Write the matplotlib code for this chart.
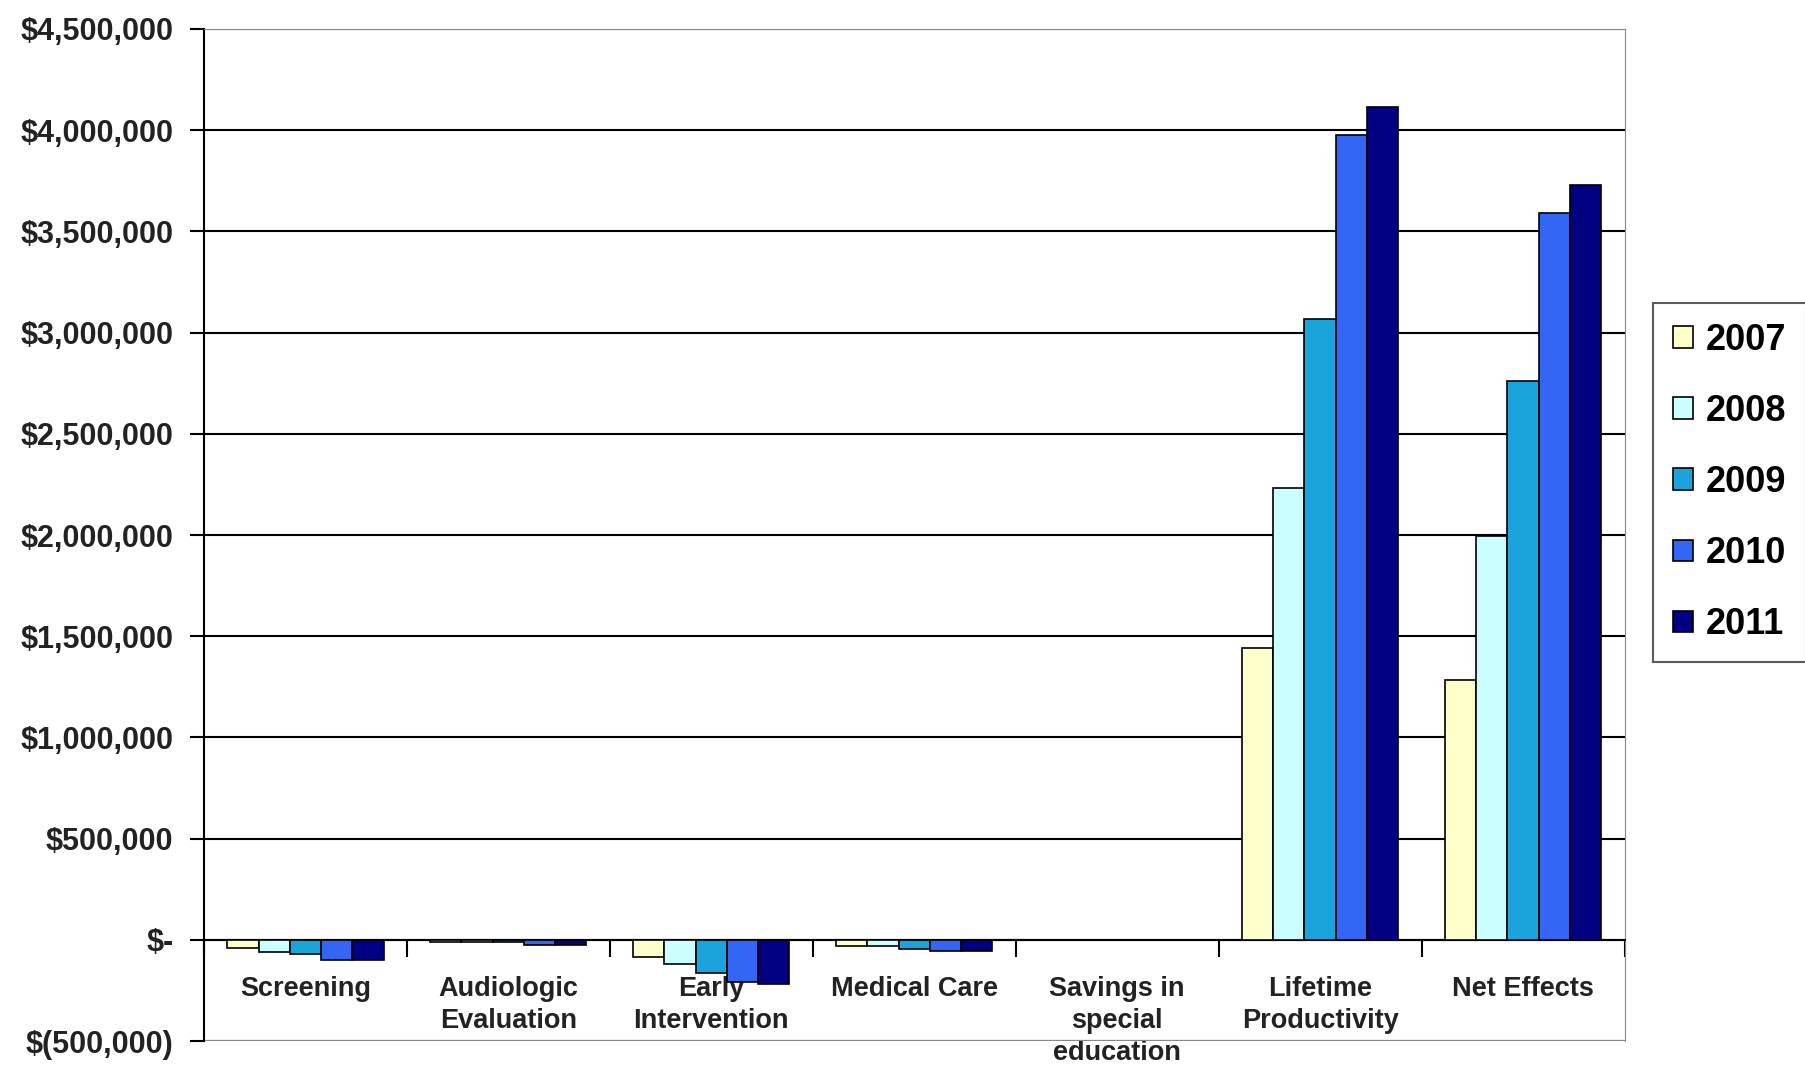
import numpy as np
import matplotlib.pyplot as plt
from matplotlib.ticker import FuncFormatter

categories = ["Screening", "Audiologic\nEvaluation", "Early\nIntervention", "Medical Care",
              "Savings in\nspecial\neducation", "Lifetime\nProductivity", "Net Effects"]
years = ["2007", "2008", "2009", "2010", "2011"]

v2007 = [-40000, -12000, -83000, -30000, 0, 1443000, 1284000]
v2008 = [-59000, -12000, -117000, -30000, 0, 2233000, 1995000]
v2009 = [-69000, -12000, -162000, -45000, 0, 3068000, 2761000]
v2010 = [-99000, -25000, -210000, -57000, 0, 3977000, 3591000]
v2011 = [-99000, -25000, -217000, -57000, 0, 4114000, 3727000]
series = [v2007, v2008, v2009, v2010, v2011]

colors = ["#FFFFCC", "#CCFFFF", "#1BA3DB", "#3366F5", "#000080"]


def money(v, pos):
    if v == 0:
        return "$-"
    if v < 0:
        return "$({:,.0f})".format(-v)
    return "${:,.0f}".format(v)


plt.rcParams['font.family'] = ['Liberation Sans', 'DejaVu Sans']

fig = plt.figure(figsize=(18.05, 10.7), dpi=100)
ax = fig.add_axes([0.113, 0.027, 0.787, 0.946])

x = np.arange(len(categories))
group_w = 0.77
bw = group_w / len(years)
for i, (vals, c, yr) in enumerate(zip(series, colors, years)):
    ax.bar(x - group_w / 2 + bw * (i + 0.5), vals, bw, color=c, edgecolor='black',
           linewidth=1.2, label=yr, zorder=3)

ax.set_xlim(-0.5, len(categories) - 0.5)
ax.set_ylim(-500000, 4500000)
ax.set_yticks(np.arange(-500000, 4500001, 500000))
ax.yaxis.set_major_formatter(FuncFormatter(money))
ax.tick_params(axis='y', labelsize=22, length=10, width=1.5, pad=12)
for lab in ax.get_yticklabels():
    lab.set_fontweight('bold')
    lab.set_color('#222222')

ax.grid(axis='y', color='black', linewidth=1.5, zorder=1)

# category axis sits at zero
ax.spines['bottom'].set_position(('data', 0))
ax.spines['bottom'].set_linewidth(1.5)
ax.spines['left'].set_linewidth(1.5)
ax.spines['top'].set_color('#888888')
ax.spines['right'].set_color('#888888')
ax.axhline(-500000, color='#888888', linewidth=1.5, zorder=2)

ax.set_xticks(np.arange(len(categories) + 1) - 0.5)
ax.set_xticklabels([])
ax.tick_params(axis='x', which='major', direction='out', length=12, width=1.5)
ax.set_xticks(x, minor=True)
ax.set_xticklabels(categories, minor=True, fontsize=19.5, fontweight='bold',
                   color='#222222', linespacing=1.3)
ax.tick_params(axis='x', which='minor', length=0, pad=26)

leg = fig.legend(loc='center left', bbox_to_anchor=(0.916, 0.549), borderaxespad=0,
                 prop={'weight': 'bold', 'size': 26}, frameon=True, fancybox=False,
                 edgecolor='#333333', handlelength=0.55, handleheight=0.55,
                 handletextpad=0.35, labelspacing=1.0, borderpad=0.55)
leg.get_frame().set_linewidth(1.5)

fig.savefig("out.png", dpi=100)
